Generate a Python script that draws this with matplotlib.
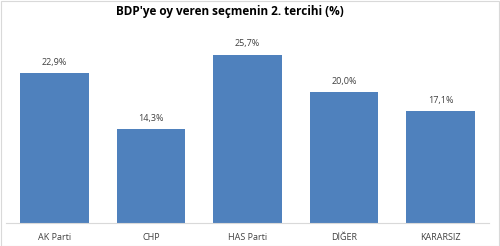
import matplotlib.pyplot as plt
from matplotlib.patches import Rectangle

# Data
categories = ["AK Parti", "CHP", "HAS Parti", "DİĞER", "KARARSIZ"]
values = [22.9, 14.3, 25.7, 20.0, 17.1]
labels = ["22,9%", "14,3%", "25,7%", "20,0%", "17,1%"]

plt.rcParams['font.family'] = ['Open Sans', 'DejaVu Sans']

fig = plt.figure(figsize=(5.0, 2.46), dpi=100)
ax = fig.add_axes([0.012, 0.0935, 0.966, 0.785])

x = range(len(categories))
bars = ax.bar(x, values, width=0.71, color='#4F81BD', zorder=2)

# value labels above the bars
for bar, lab in zip(bars, labels):
    ax.text(bar.get_x() + bar.get_width() / 2, bar.get_height() + 1.0, lab,
            ha='center', va='bottom', fontsize=6.5, color='#404040')

ax.set_xlim(-0.5, len(categories) - 0.5)
ax.set_ylim(0, 29.5)
ax.set_xticks(list(x))
ax.set_xticklabels(categories, fontsize=6.5, color='#404040')
ax.tick_params(axis='x', length=0, pad=7)
ax.set_yticks([])

for side in ['top', 'right', 'left']:
    ax.spines[side].set_visible(False)
ax.spines['bottom'].set_color('#D9D9D9')
ax.spines['bottom'].set_linewidth(0.8)

fig.text(0.46, 0.955, "BDP'ye oy veren seçmenin 2. tercihi (%)",
         ha='center', va='center', fontsize=8.5, fontweight='bold', color='#000000')

# thin outer frame
fig.patches.append(Rectangle((0.001, 0.002), 0.996, 0.994, transform=fig.transFigure,
                             fill=False, edgecolor='#D9D9D9', linewidth=0.8))

fig.savefig('out.png', dpi=100)
